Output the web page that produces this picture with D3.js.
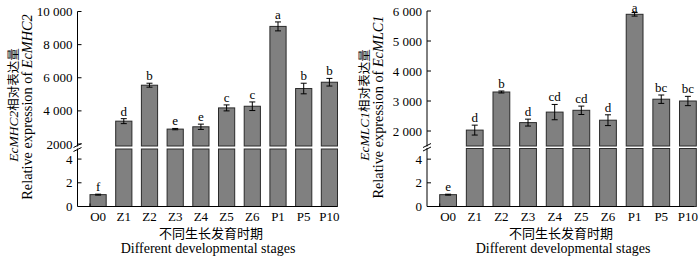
<!DOCTYPE html>
<html><head><meta charset="utf-8">
<script src="https://cdn.jsdelivr.net/npm/d3@7"></script>
<style>
body{margin:0;background:#fff;}
svg{display:block;font-family:"Liberation Serif","Times New Roman","Noto Sans CJK SC",serif;}
</style></head>
<body>
<svg id="chart" width="700" height="259"></svg>
<script>
const categories = ["O0","Z1","Z2","Z3","Z4","Z5","Z6","P1","P5","P10"];

const mhc2Values  = [1.0, 3380, 5550, 2900, 3040, 4180, 4280, 9100, 5350, 5730];
const mhc2Errors  = [0.04, 150, 120, 40, 160, 180, 260, 270, 320, 230];
const mhc2Letters = ["f","d","b","e","e","c","c","a","b","b"];
const mhc2UpperTicks = [2000, 4000, 6000, 8000, 10000];
const mhc2UpperLabels = ["2000","4 000","6 000","8 000","10 000"];

const mlc1Values  = [1.0, 2030, 3300, 2280, 2630, 2690, 2360, 5890, 3060, 3000];
const mlc1Errors  = [0.04, 165, 33, 115, 255, 140, 180, 60, 140, 155];
const mlc1Letters = ["e","d","b","d","cd","cd","d","a","bc","bc"];
const mlc1UpperTicks = [2000, 3000, 4000, 5000, 6000];
const mlc1UpperLabels = ["2 000","3 000","4 000","5 000","6 000"];

const lowerTicks = [0, 2, 4];
const lowerLabels = ["0","2","4"];

const svg = d3.select("#chart");

function panel(o){
  const g = svg.append("g");
  const x = d3.scaleBand().domain(categories).range(o.xRange).paddingInner(0.37).paddingOuter(0);
  const yU = d3.scaleLinear().domain(o.upperDomain).range([o.breakTop, o.top]);
  const yL = d3.scaleLinear().domain(o.lowerDomain).range([o.y0, o.breakBottom]);

  categories.forEach((c,i)=>{
    const v = o.values[i];
    const bx = x(c), bw = x.bandwidth();
    const e = o.errors[i];
    const cx = bx + bw/2;
    const ys = (i === 0) ? yL : yU;
    if (i === 0) {
      g.append("rect").attr("x",bx).attr("y",yL(v)).attr("width",bw).attr("height",yL(0)-yL(v))
        .attr("fill","#808080").attr("stroke","#2a2a2a").attr("stroke-width",1);
    } else {
      g.append("rect").attr("x",bx).attr("y",yU(v)).attr("width",bw).attr("height",yU(o.upperDomain[0])-yU(v))
        .attr("fill","#808080").attr("stroke","#2a2a2a").attr("stroke-width",1);
      g.append("rect").attr("x",bx).attr("y",yL(o.lowerDomain[1])).attr("width",bw).attr("height",yL(0)-yL(o.lowerDomain[1]))
        .attr("fill","#808080").attr("stroke","#2a2a2a").attr("stroke-width",1);
    }
    g.append("line").attr("x1",cx).attr("x2",cx).attr("y1",ys(v+e)).attr("y2",ys(v-e)).attr("stroke","#000");
    [v+e, v-e].forEach(t=>g.append("line").attr("x1",cx-3).attr("x2",cx+3).attr("y1",ys(t)).attr("y2",ys(t)).attr("stroke","#000"));
    g.append("text").attr("x",cx).attr("y",Math.max(ys(v+e)-3, 11.8)).attr("text-anchor","middle").attr("font-size",13).text(o.letters[i]);
  });

  const ax = o.axisX;
  g.append("line").attr("x1",ax).attr("x2",ax).attr("y1",yU(o.upperDomain[1])).attr("y2",o.breakTop+0.5).attr("stroke","#000");
  g.append("line").attr("x1",ax).attr("x2",ax).attr("y1",o.breakBottom-0.5).attr("y2",o.y0).attr("stroke","#000");
  o.upperTicks.forEach((t,i)=>{
    g.append("line").attr("x1",ax).attr("x2",ax+4).attr("y1",yU(t)).attr("y2",yU(t)).attr("stroke","#000");
    g.append("text").attr("x",ax-o.labelGap).attr("y",yU(t)).attr("dy","0.35em").attr("text-anchor","end").attr("font-size",13).text(o.upperLabels[i]);
  });
  lowerTicks.forEach((t,i)=>{
    if (t>0) g.append("line").attr("x1",ax).attr("x2",ax+4).attr("y1",yL(t)).attr("y2",yL(t)).attr("stroke","#000");
    g.append("text").attr("x",ax-o.labelGap).attr("y",yL(t)).attr("dy","0.35em").attr("text-anchor","end").attr("font-size",13).text(lowerLabels[i]);
  });
  [o.breakTop-0.5, o.breakBottom+0.5].forEach(yy=>{
    g.append("line").attr("x1",ax-4).attr("x2",ax+4).attr("y1",yy+2).attr("y2",yy-2).attr("stroke","#000");
  });

  g.append("line").attr("x1",ax).attr("x2",o.xAxisEnd).attr("y1",o.y0).attr("y2",o.y0).attr("stroke","#000");
  g.append("line").attr("x1",o.xRange[0]).attr("x2",o.xRange[0]).attr("y1",o.y0).attr("y2",o.y0-3).attr("stroke","#000");
  categories.forEach(c=>{
    g.append("text").attr("x",x(c)+x.bandwidth()/2).attr("y",221).attr("text-anchor","middle").attr("font-size",13).text(c);
  });
  g.append("text").attr("x",o.cnTitleX).attr("y",238).attr("text-anchor","middle").attr("font-size",13)
    .attr("font-family","Noto Sans CJK SC").text("不同生长发育时期");
  g.append("text").attr("x",o.enTitleX).attr("y",252.5).attr("text-anchor","middle").attr("font-size",14).text("Different developmental stages");

  const t1 = g.append("text").attr("transform",`translate(${o.t1x},105) rotate(-90)`).attr("text-anchor","middle").attr("font-size",13.5);
  t1.append("tspan").attr("font-style","italic").text(o.gene);
  t1.append("tspan").attr("font-family","Noto Sans CJK SC").attr("font-size",12.5).text("相对表达量");
  const t2 = g.append("text").attr("transform",`translate(${o.t1x+14},107) rotate(-90)`).attr("text-anchor","middle").attr("font-size",14.3);
  t2.append("tspan").text("Relative expression of ");
  t2.append("tspan").attr("font-style","italic").text(o.gene);
}

panel({
  values: mhc2Values, errors: mhc2Errors, letters: mhc2Letters,
  upperTicks: mhc2UpperTicks, upperLabels: mhc2UpperLabels,
  upperDomain: [1880, 10000], lowerDomain: [0, 4.85],
  top: 11.5, breakTop: 146, breakBottom: 149, y0: 206.5,
  xRange: [90, 337.5], axisX: 77.5, xAxisEnd: 337, labelGap: 5,
  cnTitleX: 211, enTitleX: 208, t1x: 18, gene: "EcMHC2"
});
panel({
  values: mlc1Values, errors: mlc1Errors, letters: mlc1Letters,
  upperTicks: mlc1UpperTicks, upperLabels: mlc1UpperLabels,
  upperDomain: [1500, 6000], lowerDomain: [0, 4.9],
  top: 11, breakTop: 146, breakBottom: 148.5, y0: 206.5,
  xRange: [439.7, 696.3], axisX: 427, xAxisEnd: 694, labelGap: 5,
  cnTitleX: 561, enTitleX: 563, t1x: 369, gene: "EcMLC1"
});
</script>
</body></html>
